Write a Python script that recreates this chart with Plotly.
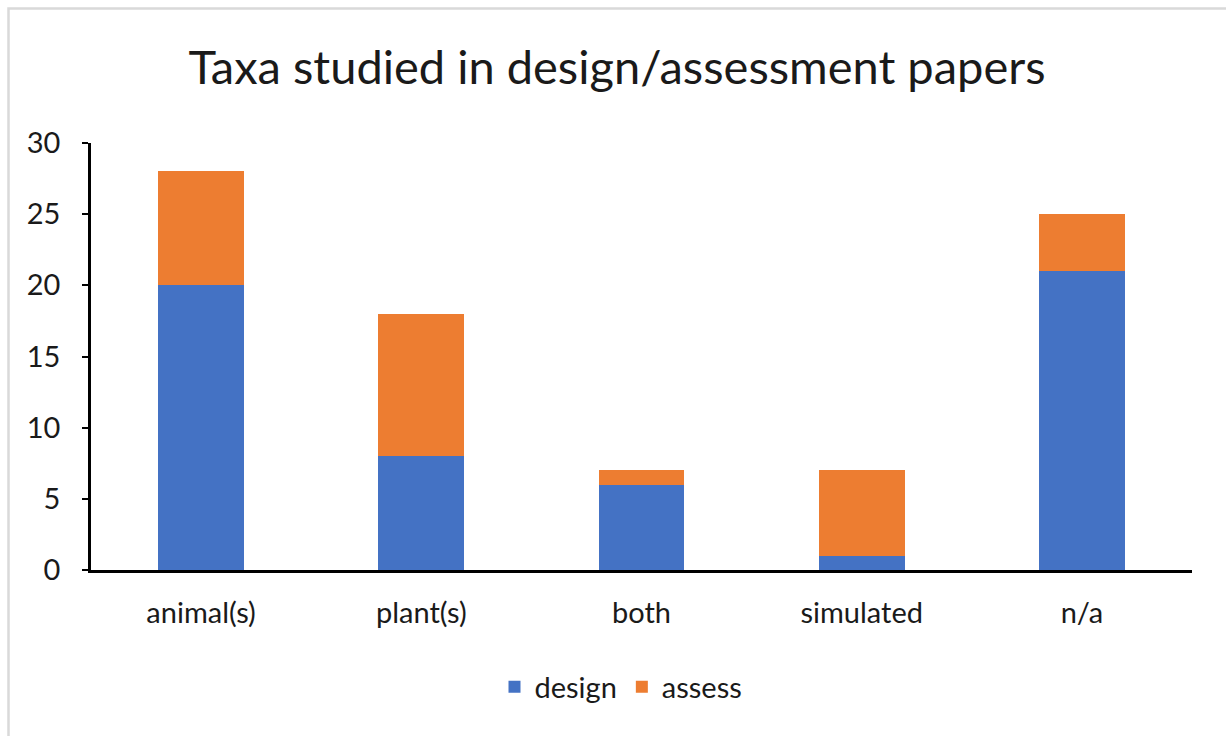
import plotly.graph_objects as go

categories = ["animal(s)", "plant(s)", "both", "simulated", "n/a"]
design = [20, 8, 6, 1, 21]
assess = [8, 10, 1, 6, 4]
y_ticks = [0, 5, 10, 15, 20, 25, 30]

W, H = 1226, 736
L, R, T, B = 91, 34, 143, 166
pw, ph = W - L - R, H - T - B

def px_x(x):
    return (x - L) / pw

def px_y(y):
    return (H - B - y) / ph

FONT = "Lato"

fig = go.Figure()
fig.add_trace(go.Bar(x=categories, y=design, name="design", marker=dict(color="#4472C4", line=dict(width=0))))
fig.add_trace(go.Bar(x=categories, y=assess, name="assess", marker=dict(color="#ED7D31", line=dict(width=0))))

fig.update_layout(
    width=W, height=H,
    barmode="stack",
    bargap=0.61,
    paper_bgcolor="white",
    plot_bgcolor="white",
    margin=dict(l=L, r=R, t=T, b=B),
    title=dict(text="Taxa studied in design/assessment papers", x=px_x(617), xanchor="center",
               xref="paper",
               y=1 - 68 / H, yanchor="middle",
               font=dict(family=FONT, size=47, color="#1a1a1a")),
    font=dict(family=FONT, color="#1a1a1a"),
    xaxis=dict(showline=True, linecolor="black", linewidth=2.5, ticks="",
               tickfont=dict(size=29, color="#1a1a1a"), ticklabelstandoff=15,
               showgrid=False, zeroline=False),
    yaxis=dict(range=[0, 30], tickvals=y_ticks, showline=True, linecolor="black", linewidth=2.5,
               ticks="outside", ticklen=6, tickwidth=2, tickcolor="black", ticklabelstandoff=16,
               tickfont=dict(size=29, color="#1a1a1a"), showgrid=False, zeroline=False),
    legend=dict(orientation="h", x=px_x(621), xanchor="center",
                y=px_y(687), yanchor="middle", font=dict(size=29, color="#1a1a1a"),
                itemwidth=30, traceorder="normal"),
    showlegend=True,
    shapes=[dict(type="rect", xref="paper", yref="paper",
                 x0=px_x(8.5), x1=px_x(1240), y0=px_y(750), y1=px_y(8.5),
                 line=dict(color="#d9d9d9", width=2.5), layer="below")],
)

fig.write_html("out.html")
